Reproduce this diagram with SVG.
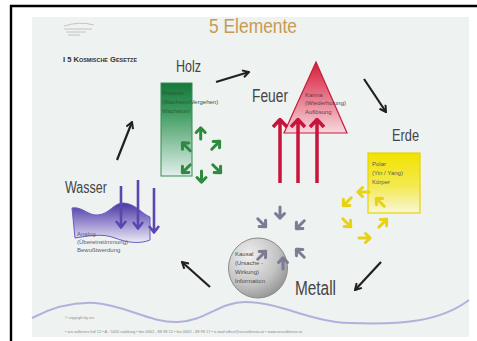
<svg xmlns="http://www.w3.org/2000/svg" xmlns:xlink="http://www.w3.org/1999/xlink" width="477" height="341" viewBox="0 0 477 341">
<style>
.lbl{font-family:"Liberation Sans",Arial,sans-serif;fill:#454545}
.sm{font-family:"Liberation Sans",Arial,sans-serif;font-size:6px;fill:#5a5a5a}
.con{fill:none;stroke:#202020;stroke-width:2.2;marker-end:url(#hd)}
.tiny{font-family:"Liberation Sans",Arial,sans-serif;font-size:3.6px;fill:#8a8a8a}
</style>
<defs>
<marker id="hd" viewBox="0 0 10 10" refX="8.5" refY="5" markerWidth="9" markerHeight="9" markerUnits="userSpaceOnUse" orient="auto">
<path d="M1.5,1 L8.5,5 L1.5,9" fill="none" stroke="#202020" stroke-width="2.2"/>
</marker>
<path id="sa" d="M0,6 V-5 M-4.5,-0.5 L0,-5.2 L4.5,-0.5" fill="none" stroke="currentColor" stroke-width="3" stroke-linecap="round" stroke-linejoin="round"/>
<linearGradient id="gG" x1="0" y1="0" x2="0" y2="1">
<stop offset="0" stop-color="#17773c"/><stop offset="0.3" stop-color="#3b9a5c"/><stop offset="1" stop-color="#e2efec"/>
</linearGradient>
<linearGradient id="gR" x1="0" y1="0" x2="0" y2="1">
<stop offset="0" stop-color="#d81a38"/><stop offset="1" stop-color="#f6d8de"/>
</linearGradient>
<linearGradient id="gY" x1="0" y1="0" x2="0" y2="1">
<stop offset="0" stop-color="#f2e200"/><stop offset="0.55" stop-color="#f4ea50"/><stop offset="1" stop-color="#f8f6d8"/>
</linearGradient>
<radialGradient id="gC" cx="0.35" cy="0.3" r="0.8">
<stop offset="0" stop-color="#f0f0f0"/><stop offset="0.6" stop-color="#c4c4c4"/><stop offset="1" stop-color="#8c8c8c"/>
</radialGradient>
<linearGradient id="gW" x1="0" y1="0" x2="0" y2="1">
<stop offset="0" stop-color="#4a36a2"/><stop offset="0.5" stop-color="#9a8ed0"/><stop offset="1" stop-color="#ecebf6"/>
</linearGradient>
</defs>

<rect width="477" height="341" fill="#ffffff"/>
<path d="M11,341 V6 H477" fill="none" stroke="#000" stroke-width="2.4"/>
<rect x="32" y="17" width="437" height="320" fill="#eef2f1"/>

<g id="logo" fill="none" stroke="#b8b8b8" stroke-width="0.8">
<path d="M64,26 Q80,21 94,25"/>
<path d="M64,29 H92 M66,32 H86 M68,35 H80"/>
</g>

<g id="title">
<text class="lbl" x="209" y="33" font-size="21" textLength="88" lengthAdjust="spacingAndGlyphs" style="fill:#c69a52">5 Elemente</text>
<text class="lbl" x="63" y="62" font-size="7" font-weight="bold" font-variant="small-caps" textLength="74" lengthAdjust="spacingAndGlyphs" style="fill:#333">I 5 Kosmische Gesetze</text>
</g>

<g id="holz">
<text class="lbl" x="176" y="72" font-size="16" textLength="25" lengthAdjust="spacingAndGlyphs">Holz</text>
<rect x="161" y="83" width="31" height="93" fill="url(#gG)" stroke="#3a8a52" stroke-width="1"/>
<text class="sm" x="162" y="95" style="fill:#1f5a33">Prozess</text>
<text class="sm" x="162" y="104" style="fill:#2a5a3a">(Wachsen/Vergehen)</text>
<text class="sm" x="162" y="113" style="fill:#2f5a3f">Wachstum</text>
<g color="#2e8a3e">
<use xlink:href="#sa" transform="translate(200.7,133)"/>
<use xlink:href="#sa" transform="translate(186,146.5) rotate(-45)"/>
<use xlink:href="#sa" transform="translate(216,145) rotate(45)"/>
<use xlink:href="#sa" transform="translate(186,169) rotate(-135)"/>
<use xlink:href="#sa" transform="translate(217,169) rotate(135)"/>
<use xlink:href="#sa" transform="translate(201.5,177) rotate(180)"/>
</g>
</g>

<g id="feuer">
<text class="lbl" x="252" y="102" font-size="18" textLength="36" lengthAdjust="spacingAndGlyphs">Feuer</text>
<polygon points="316,62 347,133 284,133" fill="url(#gR)" stroke="#c41e3a" stroke-width="1.2"/>
<text class="sm" x="305" y="97" style="fill:#6a3a44">Karma</text>
<text class="sm" x="305" y="105" style="fill:#6a3a44">(Wiederholung)</text>
<text class="sm" x="305" y="114" style="fill:#6a3a44">Auflösung</text>
<path d="M280,183 V119 M273,127 L280,119.5 L287,127 M298,183 V119 M291,127 L298,119.5 L305,127 M317,183 V119 M310,127 L317,119.5 L324,127" fill="none" stroke="#c8143c" stroke-width="3.5" stroke-linejoin="round"/>
</g>

<g id="erde">
<text class="lbl" x="392" y="141" font-size="17" textLength="27" lengthAdjust="spacingAndGlyphs">Erde</text>
<rect x="368" y="153" width="52" height="60" fill="url(#gY)" stroke="#e6d400" stroke-width="1.2"/>
<text class="sm" x="372" y="166">Polar</text>
<text class="sm" x="372" y="175">(Yin / Yang)</text>
<text class="sm" x="372" y="184">Körper</text>
<g color="#e8d214">
<use xlink:href="#sa" transform="translate(363,192) rotate(-90)"/>
<use xlink:href="#sa" transform="translate(347,202) rotate(-135)"/>
<use xlink:href="#sa" transform="translate(347,223) rotate(135)"/>
<use xlink:href="#sa" transform="translate(365,238) rotate(90)"/>
<use xlink:href="#sa" transform="translate(383,223) rotate(45)"/>
<use xlink:href="#sa" transform="translate(380,202) rotate(-45)"/>
</g>
</g>

<g id="metall">
<text class="lbl" x="295" y="295" font-size="20" textLength="41" lengthAdjust="spacingAndGlyphs">Metall</text>
<ellipse cx="258" cy="268" rx="29.5" ry="30" fill="url(#gC)" stroke="#8a8a8a" stroke-width="1"/>
<text class="sm" x="235" y="256" style="fill:#4a4a4a">Kausal</text>
<text class="sm" x="235" y="265" style="fill:#4a4a4a">(Ursache -</text>
<text class="sm" x="235" y="274" style="fill:#4a4a4a">Wirkung)</text>
<text class="sm" x="235" y="283" style="fill:#4a4a4a">Information</text>
<g color="#7c7c94">
<use xlink:href="#sa" transform="translate(280,213) rotate(180)"/>
<use xlink:href="#sa" transform="translate(262,223) rotate(135)"/>
<use xlink:href="#sa" transform="translate(300,225) rotate(-135)"/>
<use xlink:href="#sa" transform="translate(300,253) rotate(-45)"/>
<use xlink:href="#sa" transform="translate(262,255) rotate(45)"/>
<use xlink:href="#sa" transform="translate(283,263)"/>
</g>
</g>

<g id="wasser">
<text class="lbl" x="65" y="193" font-size="16" textLength="42" lengthAdjust="spacingAndGlyphs">Wasser</text>
<path d="M72,208 C82,206 88,216 98,215 C110,214 114,202 124,203 C136,204 142,214 150,217 L150,240 C140,244 128,243 115,238 C102,233 88,236 75,238 Z" fill="url(#gW)" stroke="#6a5cc0" stroke-width="1"/>
<text class="sm" x="77" y="236" style="fill:#5a5a72">Analog</text>
<text class="sm" x="77" y="244" style="fill:#5a5a72">(Übereinstimmung)</text>
<text class="sm" x="77" y="252" style="fill:#5a5a72">Bewußtwerdung</text>
<path d="M121,186 V227 M116,221 L121,227.5 L126,221 M138,180 V228 M133,222 L138,228.5 L143,222 M154,188 V232 M149,226 L154,232.5 L159,226" fill="none" stroke="#5a48b0" stroke-width="2.6" stroke-linejoin="round"/>
</g>

<g id="connectors">
<line class="con" x1="117" y1="160" x2="132" y2="122"/>
<line class="con" x1="216" y1="82" x2="249" y2="72"/>
<line class="con" x1="364" y1="79" x2="386" y2="112"/>
<line class="con" x1="381" y1="262" x2="355" y2="290"/>
<line class="con" x1="210" y1="287" x2="182" y2="262"/>
</g>

<g id="footer">
<path d="M32,318 C55,306 75,302 95,303 C125,305 150,323 178,322 C205,321 220,302 245,302 C280,302 310,322 350,323 C400,325 440,322 469,300" fill="none" stroke="#b4b0dc" stroke-width="2"/>
<text class="tiny" x="65" y="319">© copyright by ars</text>
<text class="tiny" x="65" y="333" textLength="237" lengthAdjust="spacingAndGlyphs">• ars vallensis hof 12 • A - 5020 salzburg • fon 0662 - 88 98 12 • fax 0662 - 88 98 17 • e-mail office@arsvallensis.at • www.arsvallensis.at</text>
</g>
</svg>
